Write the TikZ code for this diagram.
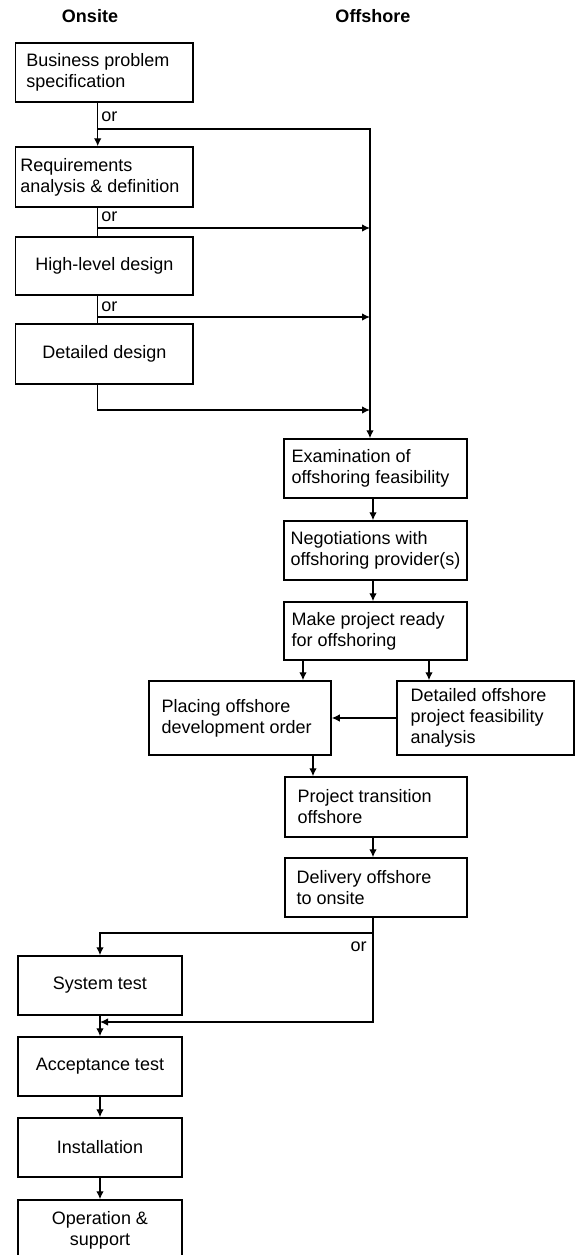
\documentclass[tikz,border=0pt]{standalone}
\usepackage{fontspec}
\setmainfont{Liberation Sans}
\usetikzlibrary{arrows.meta}
\begin{document}
\begin{tikzpicture}[x=0.5pt,y=-0.5pt,
  fnt/.style={font=\fontsize{9}{10.5}\selectfont},
  box/.style={draw, line width=0.75pt, rectangle, inner sep=0pt},
  cbox/.style={box, fnt, align=center},
  txt/.style={fnt, align=left, inner sep=0pt, anchor=west},
  lab/.style={fnt, inner sep=0pt},
  ttl/.style={font=\fontsize{9}{10.5}\selectfont\bfseries, inner sep=0pt},
  ln/.style={line width=0.7pt},
  arr/.style={ln, -{Latex[length=4pt,width=3.8pt]}}]
\useasboundingbox (0,0) rectangle (576,1255);

% titles
\node[ttl] (onsite) at (90,16) {Onsite};
\node[ttl] (offshore) at (373,16) {Offshore};

% onsite top boxes
\node[box, minimum width=88.75pt, minimum height=29.5pt] (biz) at (104.4,72.5) {};
\node[txt] (biz-t) at ([xshift=5.5pt]biz.west) {Business problem\\specification};
\node[box, minimum width=88.75pt, minimum height=30pt] (req) at (104.4,177) {};
\node[txt] (req-t) at ([xshift=2.5pt]req.west) {Requirements\\analysis \& definition};
\node[cbox, minimum width=88.75pt, minimum height=29pt] (high) at (104.4,266) {High-level design};
\node[cbox, minimum width=88.75pt, minimum height=30pt] (det) at (104.4,354) {Detailed design};

% offshore boxes
\node[box, minimum width=91.5pt, minimum height=29.5pt] (exam) at (375.5,468.5) {};
\node[txt] (exam-t) at ([xshift=4pt]exam.west) {Examination of\\offshoring feasibility};
\node[box, minimum width=91.5pt, minimum height=29.5pt] (neg) at (375.5,550.5) {};
\node[txt] (neg-t) at ([xshift=3.5pt]neg.west) {Negotiations with\\offshoring provider(s)};
\node[box, minimum width=91.5pt, minimum height=29pt] (make) at (375.5,631) {};
\node[txt] (make-t) at ([xshift=4pt]make.west) {Make project ready\\for offshoring};
\node[box, minimum width=91pt, minimum height=37pt] (place) at (240,718) {};
\node[txt] (place-t) at ([xshift=6.5pt]place.west) {Placing offshore\\development order};
\node[box, minimum width=88.5pt, minimum height=37pt] (detf) at (485.5,718) {};
\node[txt] (detf-t) at ([xshift=7pt]detf.west) {Detailed offshore\\project feasibility\\analysis};
\node[box, minimum width=91pt, minimum height=30pt] (proj) at (376,807) {};
\node[txt] (proj-t) at ([xshift=6.5pt]proj.west) {Project transition\\offshore};
\node[box, minimum width=91pt, minimum height=29.5pt] (deliv) at (376,887.5) {};
\node[txt] (deliv-t) at ([xshift=6pt]deliv.west) {Delivery offshore\\to onsite};

% onsite bottom boxes
\node[cbox, minimum width=82pt, minimum height=29.5pt] (sys) at (100,985.5) {System test};
\node[cbox, minimum width=82pt, minimum height=29.5pt] (acc) at (100,1066.5) {Acceptance test};
\node[cbox, minimum width=82pt, minimum height=29.5pt] (inst) at (100,1147.5) {Installation};
\node[box, minimum width=82pt, minimum height=32pt] (op) at (100,1232) {};
\node[fnt, align=center, inner sep=0pt] (op-t) at (100,1230) {Operation \&\\support};

% reference coordinates
\coordinate (lx) at (97.7,0);
\coordinate (rx) at (370,0);
\coordinate (cx) at (373,0);
\coordinate (p1) at (303,0);
\coordinate (p2) at (429,0);
\coordinate (p3) at (313,0);
\coordinate (b1) at (97.7,129);
\coordinate (b2) at (97.7,228);
\coordinate (b3) at (97.7,317);
\coordinate (b4) at (370,410);
\coordinate (d1) at (373,933);
\coordinate (d2) at (373,1022);

% onsite upper connectors
\draw[arr] (biz.south -| lx) -- (req.north -| lx);
\draw[arr] (b1) -| (exam.north -| rx);
\draw[ln] (req.south -| lx) -- (high.north -| lx);
\draw[arr] (b2) -- (b2 -| rx);
\draw[ln] (high.south -| lx) -- (det.north -| lx);
\draw[arr] (b3) -- (b3 -| rx);
\draw[arr] (det.south -| lx) |- (b4);

\node[lab, anchor=west] (or1) at (101,117) {or};
\node[lab, anchor=west] (or2) at (101,217) {or};
\node[lab, anchor=west] (or3) at (101,307) {or};

% offshore connectors
\draw[arr] (exam.south -| cx) -- (neg.north -| cx);
\draw[arr] (neg.south -| cx) -- (make.north -| cx);
\draw[arr] (make.south -| p1) -- (place.north -| p1);
\draw[arr] (make.south -| p2) -- (detf.north -| p2);
\draw[arr] (detf.west) -- (place.east);
\draw[arr] (place.south -| p3) -- (proj.north -| p3);
\draw[arr] (proj.south -| cx) -- (deliv.north -| cx);

% delivery to onsite
\draw[arr] (deliv.south -| cx) -- (d2) -- (d2 -| sys.south);
\draw[arr] (d1) -| (sys.north);
\node[lab, anchor=east] (or4) at (367,947) {or};

% onsite lower connectors
\draw[arr] (sys.south) -- (acc.north);
\draw[arr] (acc.south) -- (inst.north);
\draw[arr] (inst.south) -- (op.north);
\end{tikzpicture}
\end{document}
